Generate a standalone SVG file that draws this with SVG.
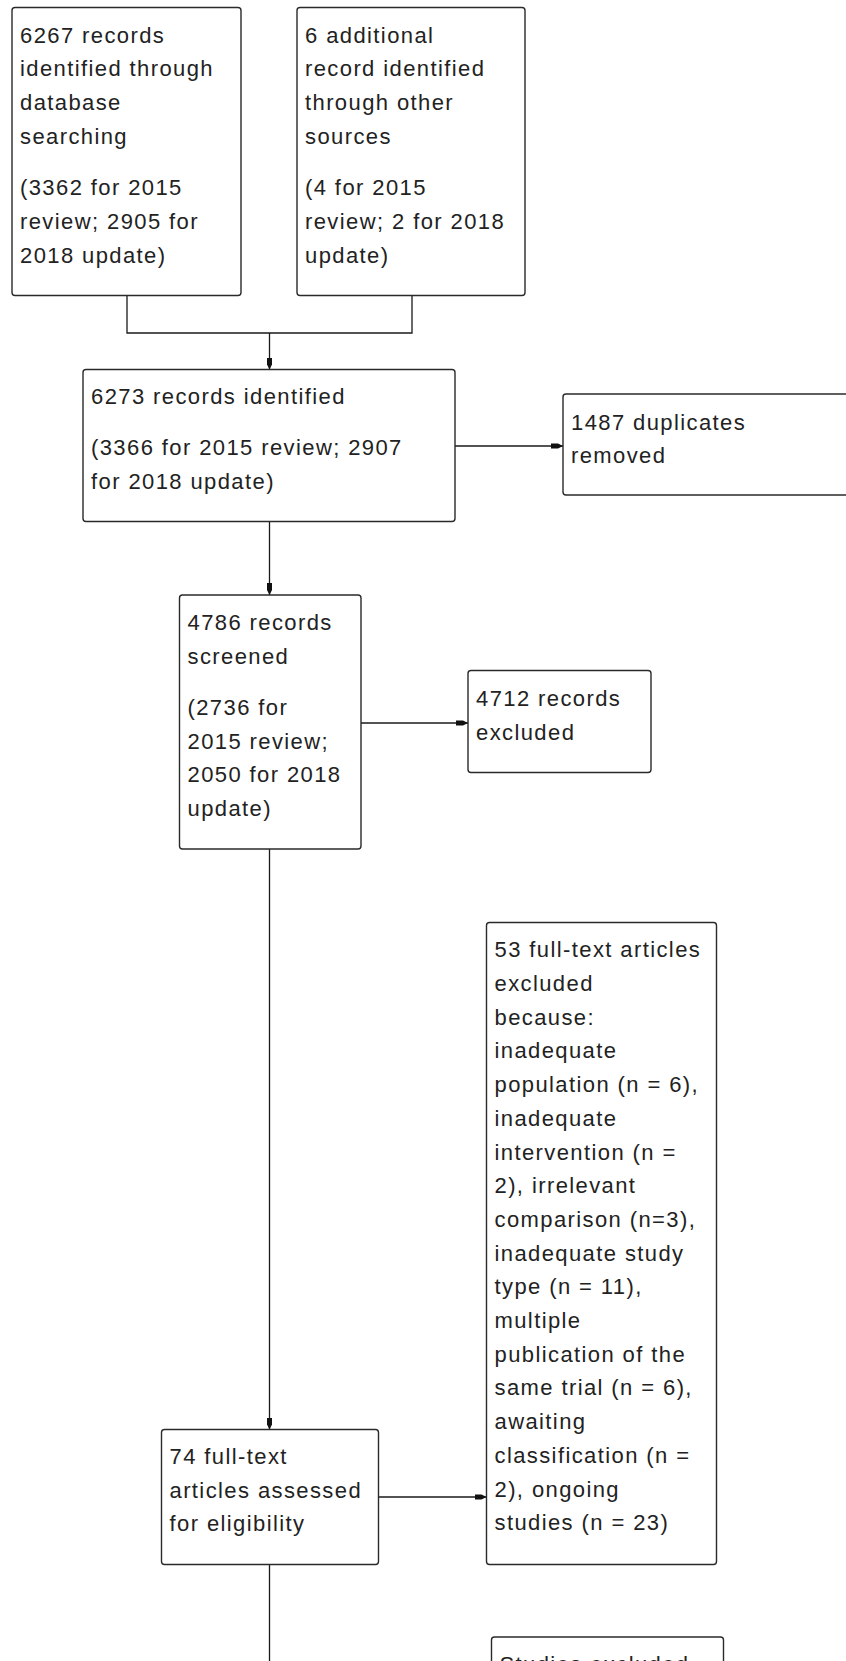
<svg xmlns="http://www.w3.org/2000/svg" width="846" height="1661" viewBox="0 0 846 1661">
<style>
.box{fill:#fff;stroke:#2a2a2a;stroke-width:1.4}
.t{font-family:"Liberation Sans",Arial,sans-serif;font-size:22px;letter-spacing:1.4px;fill:#222}
.c{fill:none;stroke:#1a1a1a;stroke-width:1.3}
.a{marker-end:url(#arr)}
</style>
<defs>
<marker id="arr" viewBox="0 0 12 7" markerWidth="12" markerHeight="7" refX="12" refY="3.5" orient="auto" markerUnits="userSpaceOnUse">
<path d="M0,1 L7,1 L12,3.5 L7,6 L0,6 Z" fill="#111"/>
</marker>
</defs>
<rect width="846" height="1661" fill="#fff"/>
<g id="connectors">
<path class="c" d="M127,295.5 V333 H412 V295.5"/>
<path class="c a" d="M269.5,333 V369.5"/>
<path class="c a" d="M455,446 H563"/>
<path class="c a" d="M269.5,521.5 V595"/>
<path class="c a" d="M361,723 H468"/>
<path class="c a" d="M269.5,849 V1429.5"/>
<path class="c a" d="M378.5,1497 H486.5"/>
<path class="c" d="M269.5,1564.5 V1661"/>
</g>
<g id="n1">
<rect class="box" x="12" y="7.5" width="229" height="288" rx="3"/>
<text class="t"><tspan x="20" y="42.7">6267 records</tspan><tspan x="20" y="76.4">identified through</tspan><tspan x="20" y="110.1">database</tspan><tspan x="20" y="143.8">searching</tspan><tspan x="20" y="195.3">(3362 for 2015</tspan><tspan x="20" y="229">review; 2905 for</tspan><tspan x="20" y="262.7">2018 update)</tspan></text>
</g>
<g id="n2">
<rect class="box" x="297" y="7.5" width="228" height="288" rx="3"/>
<text class="t"><tspan x="305" y="42.7">6 additional</tspan><tspan x="305" y="76.4">record identified</tspan><tspan x="305" y="110.1">through other</tspan><tspan x="305" y="143.8">sources</tspan><tspan x="305" y="195.3">(4 for 2015</tspan><tspan x="305" y="229">review; 2 for 2018</tspan><tspan x="305" y="262.7">update)</tspan></text>
</g>
<g id="n3">
<rect class="box" x="83" y="369.5" width="372" height="152" rx="3"/>
<text class="t"><tspan x="91" y="403.5">6273 records identified</tspan><tspan x="91" y="455">(3366 for 2015 review; 2907</tspan><tspan x="91" y="488.7">for 2018 update)</tspan></text>
</g>
<g id="n4">
<rect class="box" x="563" y="394" width="300" height="101" rx="3"/>
<text class="t"><tspan x="571" y="429.5">1487 duplicates</tspan><tspan x="571" y="462.5">removed</tspan></text>
</g>
<g id="n5">
<rect class="box" x="179.5" y="595" width="181.5" height="254" rx="3"/>
<text class="t"><tspan x="187.5" y="630">4786 records</tspan><tspan x="187.5" y="663.7">screened</tspan><tspan x="187.5" y="715">(2736 for</tspan><tspan x="187.5" y="748.7">2015 review;</tspan><tspan x="187.5" y="782.4">2050 for 2018</tspan><tspan x="187.5" y="816.1">update)</tspan></text>
</g>
<g id="n6">
<rect class="box" x="468" y="670.5" width="183" height="102" rx="3"/>
<text class="t"><tspan x="476" y="706">4712 records</tspan><tspan x="476" y="739.5">excluded</tspan></text>
</g>
<g id="n7">
<rect class="box" x="486.5" y="922.5" width="230" height="642" rx="3"/>
<text class="t"><tspan x="494.5" y="957.3">53 full-text articles</tspan><tspan x="494.5" y="991">excluded</tspan><tspan x="494.5" y="1024.7">because:</tspan><tspan x="494.5" y="1058.4">inadequate</tspan><tspan x="494.5" y="1092.1">population (n = 6),</tspan><tspan x="494.5" y="1125.8">inadequate</tspan><tspan x="494.5" y="1159.5">intervention (n =</tspan><tspan x="494.5" y="1193.2">2), irrelevant</tspan><tspan x="494.5" y="1226.9">comparison (n=3),</tspan><tspan x="494.5" y="1260.6">inadequate study</tspan><tspan x="494.5" y="1294.3">type (n = 11),</tspan><tspan x="494.5" y="1328">multiple</tspan><tspan x="494.5" y="1361.7">publication of the</tspan><tspan x="494.5" y="1395.4">same trial (n = 6),</tspan><tspan x="494.5" y="1429.1">awaiting</tspan><tspan x="494.5" y="1462.8">classification (n =</tspan><tspan x="494.5" y="1496.5">2), ongoing</tspan><tspan x="494.5" y="1530.2">studies (n = 23)</tspan></text>
</g>
<g id="n8">
<rect class="box" x="161.5" y="1429.5" width="217" height="135" rx="3"/>
<text class="t"><tspan x="169.5" y="1464">74 full-text</tspan><tspan x="169.5" y="1497.7">articles assessed</tspan><tspan x="169.5" y="1531.4">for eligibility</tspan></text>
</g>
<g id="n9">
<rect class="box" x="491.5" y="1637" width="232" height="100" rx="3"/>
<text class="t"><tspan x="499.5" y="1672">Studies excluded</tspan></text>
</g>
</svg>
